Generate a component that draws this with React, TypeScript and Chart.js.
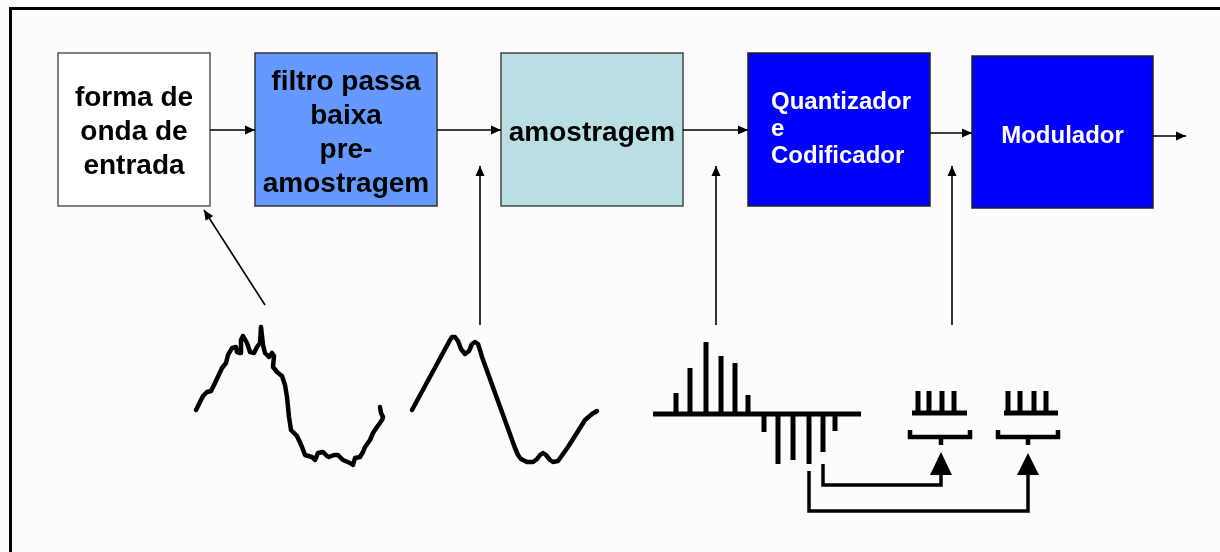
import React, { useEffect, useRef } from "react";
import { Chart, registerables } from "chart.js";

Chart.register(...registerables);

const W = 1220;
const H = 552;

// ---- Text content of the blocks ----
const blockLabels: string[][] = [
  ["forma de", "onda de", "entrada"],
  ["filtro passa", "baixa", "pre-", "amostragem"],
  ["amostragem"],
  ["Quantizador", "e", "Codificador"],
  ["Modulador"],
];

// ---- Input waveform (noisy) ----
const wave1X = [196, 200, 203, 207, 211, 215, 222, 226, 228, 232, 236, 237, 240, 241, 243, 247, 250, 254, 257, 260, 261, 263, 265, 269, 272, 274, 273, 277, 282, 285, 287, 289, 291, 297, 302, 305, 312, 315, 318, 323, 327, 329, 334, 338, 343, 350, 353, 355, 360, 363, 365, 370, 373, 377, 382, 383, 381, 380];
const wave1Y = [410, 402, 396, 392, 391, 383, 368, 363, 355, 348, 347, 352, 353, 340, 336, 343, 352, 353, 347, 343, 327, 345, 353, 357, 353, 356, 367, 372, 376, 385, 397, 417, 430, 436, 447, 455, 457, 460, 453, 452, 456, 457, 455, 455, 460, 463, 465, 458, 457, 452, 447, 440, 433, 427, 420, 417, 413, 407];

// ---- Filtered waveform ----
const wave2X = [412, 450, 452, 455, 458, 461, 465, 469, 472, 475, 478, 480, 482, 515, 518, 521, 527, 533, 537, 540, 543, 546, 550, 553, 558, 568, 585, 592, 597];
const wave2Y = [410, 340, 337, 337, 341, 349, 354, 351, 344, 342, 344, 350, 357, 448, 455, 459, 462, 462, 459, 455, 453, 455, 460, 462, 461, 447, 420, 414, 411];

// ---- Samples (PAM) ----
const sampleX = [676, 690, 706, 721, 735, 748, 764, 778, 793, 809, 823, 835];
const sampleAmp = [21, 46, 72, 58, 51, 19, -18, -50, -46, -50, -38, -17];
const sampleBase = 414;
const sampleAxis = [653, 861];

// ---- Code words (comb symbols) ----
const comb1Teeth = [918, 929, 942, 954];
const comb2Teeth = [1008, 1020, 1034, 1046];

// ---- Layout (geometry) ----
const boxes = [
  { x0: 58, y0: 53, x1: 210, y1: 206, fill: "#ffffff", stroke: "#555555", color: "#000000", font: 28, ls: 0, align: "center", baselines: [106, 140, 174] },
  { x0: 255, y0: 53, x1: 437, y1: 206, fill: "#6699ff", stroke: "#333333", color: "#000000", font: 28, ls: 0, align: "center", baselines: [90, 124, 158, 192] },
  { x0: 501, y0: 53, x1: 683, y1: 206, fill: "#badfe3", stroke: "#444444", color: "#000000", font: 28, ls: 0, align: "center", baselines: [141] },
  { x0: 748, y0: 53, x1: 930, y1: 206, fill: "#0000ff", stroke: "#222222", color: "#ffffff", font: 24, ls: 0, align: "left", textX: 771, baselines: [109, 136, 163] },
  { x0: 972, y0: 56, x1: 1153, y1: 208, fill: "#0000ff", stroke: "#222222", color: "#ffffff", font: 24, ls: 0, align: "center", baselines: [143] },
];

const thinArrows = [
  { from: [210, 130], to: [255, 130] },
  { from: [437, 130], to: [501, 130] },
  { from: [683, 130], to: [748, 130] },
  { from: [930, 133], to: [972, 133] },
  { from: [1153, 136], to: [1186, 136] },
  { from: [265, 305], to: [204, 210] },
  { from: [480, 325], to: [480, 166] },
  { from: [716, 325], to: [716, 166] },
  { from: [952, 325], to: [952, 166] },
];

const thickArrowTips = [
  { tip: [941, 452], baseY: 475, half: 11 },
  { tip: [1028, 453], baseY: 475, half: 11 },
];

type Pt = { x: number; y: number };

function seg(points: number[][], width: number, color = "#000000", cap: any = "butt") {
  return {
    type: "line" as const,
    data: points.map(([x, y]) => ({ x, y })),
    borderColor: color,
    borderWidth: width,
    pointRadius: 0,
    borderCapStyle: cap,
    borderJoinStyle: "miter" as const,
    tension: 0,
    fill: false,
  };
}

function buildDatasets() {
  const ds: any[] = [];
  thinArrows.forEach((a) => ds.push(seg([a.from, a.to], 1.6)));
  const w1: Pt[] = wave1X.map((x, i) => ({ x, y: wave1Y[i] }));
  const w2: Pt[] = wave2X.map((x, i) => ({ x, y: wave2Y[i] }));
  ds.push({ type: "line", data: w1, borderColor: "#000", borderWidth: 4.5, pointRadius: 0, borderJoinStyle: "round", borderCapStyle: "round", tension: 0, fill: false });
  ds.push({ type: "line", data: w2, borderColor: "#000", borderWidth: 4.5, pointRadius: 0, borderJoinStyle: "round", borderCapStyle: "round", tension: 0, fill: false });
  ds.push(seg([[sampleAxis[0], sampleBase], [sampleAxis[1], sampleBase]], 5));
  sampleX.forEach((x, i) => {
    const a = sampleAmp[i];
    const start = a > 0 ? sampleBase - 2 : sampleBase + 2;
    ds.push(seg([[x, start], [x, sampleBase - a]], 5));
  });
  const comb = (teeth: number[], x0: number, x1: number) => {
    ds.push(seg([[x0, 413], [x1, 413]], 5));
    teeth.forEach((t) => ds.push(seg([[t, 411], [t, 391]], 5)));
  };
  comb(comb1Teeth, 912, 967);
  comb(comb2Teeth, 1004, 1058);
  const bracket = (x0: number, x1: number, xc: number) => {
    ds.push(seg([[x0, 430], [x0, 437], [x1, 437], [x1, 430]], 4.5));
    ds.push(seg([[xc, 437], [xc, 445]], 4.5));
  };
  bracket(910, 970, 941);
  bracket(998, 1058, 1028);
  ds.push(seg([[823, 464], [823, 485], [941, 485], [941, 474]], 3.5));
  ds.push(seg([[809, 471], [809, 511], [1028, 511], [1028, 474]], 3.5));
  return ds;
}

const diagramPlugin = {
  id: "diagram",
  beforeDraw(chart: any) {
    const ctx = chart.ctx;
    ctx.save();
    ctx.fillStyle = "#fcfcfc";
    ctx.fillRect(0, 0, chart.width, chart.height);
    ctx.restore();
  },
  beforeDatasetsDraw(chart: any) {
    const ctx = chart.ctx;
    const px = (v: number) => chart.scales.x.getPixelForValue(v);
    const py = (v: number) => chart.scales.y.getPixelForValue(v);
    ctx.save();
    boxes.forEach((b) => {
      const x = px(b.x0), y = py(b.y0), w = px(b.x1) - x, h = py(b.y1) - y;
      ctx.fillStyle = b.fill;
      ctx.fillRect(x, y, w, h);
      ctx.strokeStyle = b.stroke;
      ctx.lineWidth = 1.5;
      ctx.strokeRect(x, y, w, h);
    });
    ctx.restore();
  },
  afterDatasetsDraw(chart: any) {
    const ctx = chart.ctx;
    const px = (v: number) => chart.scales.x.getPixelForValue(v);
    const py = (v: number) => chart.scales.y.getPixelForValue(v);
    ctx.save();
    boxes.forEach((b: any, i) => {
      ctx.fillStyle = b.color;
      ctx.font = `bold ${b.font}px "Liberation Sans", Arial, sans-serif`;
      ctx.textBaseline = "alphabetic";
      (ctx as any).letterSpacing = `${b.ls}px`;
      blockLabels[i].forEach((line, j) => {
        if (b.align === "left") {
          ctx.textAlign = "left";
          ctx.fillText(line, px(b.textX), py(b.baselines[j]));
        } else {
          ctx.textAlign = "center";
          ctx.fillText(line, px((b.x0 + b.x1) / 2) + b.ls / 2, py(b.baselines[j]));
        }
      });
    });
    (ctx as any).letterSpacing = "0px";
    ctx.fillStyle = "#000";
    thinArrows.forEach((a) => {
      const tx = px(a.to[0]), ty = py(a.to[1]);
      const fx = px(a.from[0]), fy = py(a.from[1]);
      const ang = Math.atan2(ty - fy, tx - fx);
      const L = 10, hw = 4.5;
      const bx = tx - L * Math.cos(ang), by = ty - L * Math.sin(ang);
      ctx.beginPath();
      ctx.moveTo(tx, ty);
      ctx.lineTo(bx - hw * Math.sin(ang), by + hw * Math.cos(ang));
      ctx.lineTo(bx + hw * Math.sin(ang), by - hw * Math.cos(ang));
      ctx.closePath();
      ctx.fill();
    });
    thickArrowTips.forEach((t) => {
      ctx.beginPath();
      ctx.moveTo(px(t.tip[0]), py(t.tip[1]));
      ctx.lineTo(px(t.tip[0] + t.half), py(t.baseY));
      ctx.lineTo(px(t.tip[0] - t.half), py(t.baseY));
      ctx.closePath();
      ctx.fill();
    });
    ctx.fillRect(px(9), py(7), px(W) - px(9), 3);
    ctx.fillRect(px(9), py(7), 3, py(H) - py(7));
    ctx.restore();
  },
};

export default function App() {
  const ref = useRef<HTMLCanvasElement | null>(null);
  useEffect(() => {
    document.body.style.margin = "0";
    const canvas = ref.current!;
    const chart = new Chart(canvas, {
      type: "scatter",
      data: { datasets: buildDatasets() },
      options: {
        animation: false,
        responsive: false,
        maintainAspectRatio: false,
        events: [],
        layout: { padding: 0 },
        plugins: { legend: { display: false }, tooltip: { enabled: false } },
        scales: {
          x: { type: "linear", min: 0, max: W, display: false },
          y: { type: "linear", min: 0, max: H, reverse: true, display: false },
        },
      },
      plugins: [diagramPlugin],
    } as any);
    return () => chart.destroy();
  }, []);
  return (
    <div style={{ width: W, height: H }}>
      <canvas ref={ref} width={W} height={H} style={{ display: "block", width: W, height: H }} />
    </div>
  );
}
